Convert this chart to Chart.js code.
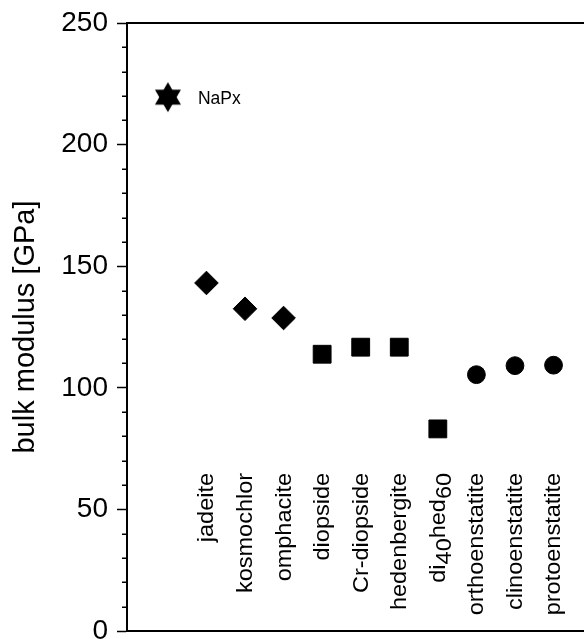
<!DOCTYPE html>
<html><head><meta charset="utf-8">
<script src="https://cdn.jsdelivr.net/npm/chart.js@4"></script>
<style>html,body{margin:0;padding:0;background:#fff}canvas{display:block}</style>
</head><body>
<canvas id="c" width="584" height="639"></canvas>
<script>
// ---- data ----
const categories = ["NaPx","jadeite","kosmochlor","omphacite","diopside","Cr-diopside","hedenbergite","di_40hed_60","orthoenstatite","clinoenstatite","protoenstatite"];
const bulkModulus = [219.5,143.1,132.5,128.7,113.8,116.7,116.7,83.1,105.4,109.1,109.3];
const markerGroup = ["star","diamond","diamond","diamond","square","square","square","square","circle","circle","circle"];
const yTickValues = [0,50,100,150,200,250];
const yTitle = "bulk modulus [GPa]";
const inlineLabel = "NaPx";

// ---- marker styles ----
function hexagram(R){
  const c=document.createElement('canvas');
  const s=Math.ceil(2*R+2); c.width=s; c.height=s;
  const g=c.getContext('2d'); const cx=s/2, cy=s/2;
  g.fillStyle='#000';
  [[-90,30,150],[90,210,330]].forEach(tri=>{
    g.beginPath();
    tri.forEach((a,k)=>{const r=a*Math.PI/180; const px=cx+R*Math.cos(r), py=cy+R*Math.sin(r); k?g.lineTo(px,py):g.moveTo(px,py);});
    g.closePath(); g.fill();
  });
  return c;
}
const styles = {
  star:{pointStyle:hexagram(15), radius:15},
  diamond:{pointStyle:'rectRot', radius:11.8},
  square:{pointStyle:'rect', radius:12.6},
  circle:{pointStyle:'circle', radius:8.9}
};
const datasets = Object.keys(styles).map(k=>({
  label:k,
  data: categories.map((c,i)=>({x:i,y:bulkModulus[i],g:markerGroup[i]})).filter(p=>p.g===k).map(p=>({x:p.x,y:p.y})),
  pointStyle: styles[k].pointStyle,
  pointRadius: styles[k].radius,
  backgroundColor:'#000', borderColor:'#000', borderWidth:1, showLine:false
}));

const FONT = '"Liberation Sans", Arial, Helvetica, sans-serif';

// minor ticks + category labels
const extras = {
  id:'extras',
  afterDraw(chart){
    const {ctx, scales:{x,y}, chartArea} = chart;
    ctx.save();
    ctx.strokeStyle='#000'; ctx.lineWidth=1.5;
    for(let v=10; v<250; v+=10){
      if(yTickValues.includes(v)) continue;
      const py=Math.round(y.getPixelForValue(v))+0.25;
      ctx.beginPath(); ctx.moveTo(chartArea.left-5,py); ctx.lineTo(chartArea.left,py); ctx.stroke();
    }
    ctx.fillStyle='#000';
    categories.forEach((name,i)=>{
      const px=x.getPixelForValue(i);
      if(name===inlineLabel){
        ctx.font='17.5px '+FONT; ctx.textAlign='left'; ctx.textBaseline='middle';
        ctx.fillText(name, px+30, y.getPixelForValue(bulkModulus[i])+2);
        return;
      }
      const parts=[]; name.split('_').forEach((seg,k)=>{
        if(k===0){parts.push([seg,0]);}
        else {const m=seg.match(/^(\d+)(.*)$/); parts.push([m[1],1]); if(m[2]) parts.push([m[2],0]);}
      });
      ctx.font='23.5px '+FONT;
      const total=parts.reduce((s,p)=>s+ctx.measureText(p[0]).width,0);
      ctx.save();
      ctx.translate(px+1, y.getPixelForValue(65));
      ctx.rotate(-Math.PI/2);
      ctx.scale(1,0.92);
      ctx.textAlign='left'; ctx.textBaseline='middle';
      let tx=-total;
      parts.forEach(p=>{ ctx.fillText(p[0], tx, p[1]?6.5:0); tx+=ctx.measureText(p[0]).width; });
      ctx.restore();
    });
    ctx.restore();
  }
};

new Chart(document.getElementById('c'),{
  type:'scatter',
  data:{datasets},
  options:{
    responsive:false, animation:false, events:[],
    layout:{padding:0, autoPadding:false},
    plugins:{legend:{display:false}, tooltip:{enabled:false}},
    scales:{
      x:{type:'linear', position:'bottom', min:-1.06, max:10.79,
         ticks:{display:false}, grid:{display:false},
         border:{display:true, color:'#000', width:2},
         afterFit:s=>{s.height=8; s.paddingLeft=0; s.paddingRight=0;}},
      x2:{type:'linear', position:'top', min:-1.06, max:10.79,
         ticks:{display:false}, grid:{display:false},
         border:{display:true, color:'#000', width:2},
         afterFit:s=>{s.height=23; s.paddingLeft=0; s.paddingRight=0;}},
      y:{type:'linear', position:'left', min:0, max:250,
         afterBuildTicks:s=>{s.ticks=yTickValues.map(v=>({value:v}));},
         ticks:{color:'#000', padding:9, font:{family:FONT, size:28}},
         grid:{display:true, drawOnChartArea:false, drawTicks:true, tickLength:10, tickColor:'#000', tickWidth:1.5},
         border:{display:true, color:'#000', width:2},
         title:{display:true, text:yTitle, color:'#000', font:{family:FONT, size:29}, padding:{top:8.5,bottom:0}},
         afterFit:s=>{s.width=127; s.paddingTop=0; s.paddingBottom=0;}}
    }
  },
  plugins:[extras]
});
</script>
</body></html>
